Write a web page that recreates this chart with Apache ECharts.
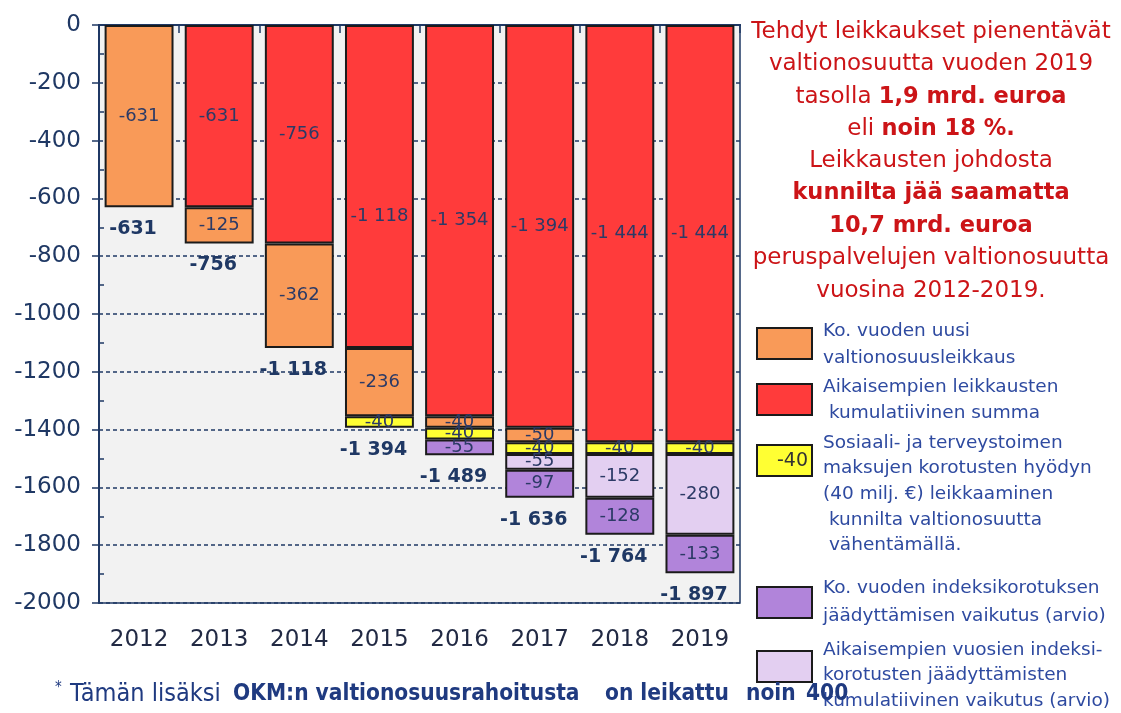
<!DOCTYPE html>
<html>
<head>
<meta charset="utf-8">
<script src="https://cdn.jsdelivr.net/npm/echarts@6/dist/echarts.min.js"></script>
<style>
html,body{margin:0;padding:0;background:#fff;}
#main{width:1121px;height:713px;}
</style>
</head>
<body>
<div id="main"></div>
<script>
// ---- data ----
const categories = ['2012','2013','2014','2015','2016','2017','2018','2019'];
const prevCumulative = [null, -631, -756, -1118, -1354, -1394, -1444, -1444]; // red
const newCut        = [-631, -125, -362, -236, -40, -50, null, null];        // orange
const socialFees    = [null, null, null, -40, -40, -40, -40, -40];           // yellow
const prevIndex     = [null, null, null, null, null, -55, -152, -280];       // light purple
const curIndex      = [null, null, null, null, -55, -97, -128, -133];        // purple
const totals        = [-631, -756, -1118, -1394, -1489, -1636, -1764, -1897];
const yTicks = { min: -2000, max: 0, interval: 200 };

const seriesNames = [
  'Aikaisempien leikkausten kumulatiivinen summa',
  'Ko. vuoden uusi valtionosuusleikkaus',
  'Sosiaali- ja terveystoimen maksujen korotusten hyödyn leikkaaminen',
  'Aikaisempien vuosien indeksikorotusten jäädyttämisten kumulatiivinen vaikutus',
  'Ko. vuoden indeksikorotuksen jäädyttämisen vaikutus'
];
const seriesData = [prevCumulative, newCut, socialFees, prevIndex, curIndex];
const seriesColors = ['#ff3b3b', '#f99a58', '#ffff33', '#e3cff1', '#b184da'];

const NAVY = '#1f3864';
const FONT = "'DejaVu Sans', Verdana, sans-serif";
const NARROW = "'DejaVu Sans Condensed', 'Liberation Sans Narrow', 'Liberation Sans', sans-serif";

function fmt(v) {
  const s = Math.abs(v).toString().replace(/\B(?=(\d{3})+(?!\d))/g, ' ');
  return (v < 0 ? '-' : '') + s;
}

const chart = echarts.init(document.getElementById('main'), null, { renderer: 'canvas' });

const barSeries = seriesData.map((d, i) => ({
  name: seriesNames[i],
  type: 'bar',
  stack: 'total',
  xAxisIndex: 0,
  yAxisIndex: 0,
  barWidth: '86%',
  data: d.map((v, j) => {
    const item = { value: v };
    if (i === 0 && j === 3) item.label = { offset: [0, 30] };
    return item;
  }),
  itemStyle: { color: seriesColors[i], borderColor: '#1b1b1b', borderWidth: 2 },
  label: {
    show: true,
    position: 'inside',
    fontFamily: FONT,
    fontSize: 18,
    color: '#2c3a66',
    formatter: p => (p.value == null ? '' : fmt(p.value))
  },
  z: 3
}));

const option = {
  animation: false,
  backgroundColor: '#ffffff',
  grid: {
    left: 99, right: 381, top: 25, bottom: 110,
    show: true, backgroundColor: '#f2f2f2', borderColor: NAVY, borderWidth: 1.5
  },
  xAxis: [
    {
      type: 'category', data: categories, position: 'bottom',
      axisLine: { show: true, lineStyle: { color: NAVY, width: 2 } },
      axisTick: { show: false },
      axisLabel: { fontFamily: FONT, fontSize: 23, color: '#222a44', margin: 26 }
    },
    {
      type: 'category', data: categories, position: 'top',
      axisLine: { show: true, lineStyle: { color: NAVY, width: 2 } },
      axisTick: { show: true, inside: true, length: 8, lineStyle: { color: NAVY, width: 1.5 } },
      axisLabel: { show: false }
    }
  ],
  yAxis: [
    {
      type: 'value', min: yTicks.min, max: yTicks.max, interval: yTicks.interval,
      axisLine: { show: true, lineStyle: { color: NAVY, width: 2 } },
      axisTick: { show: true, inside: false, length: 7, lineStyle: { color: NAVY, width: 1.5 } },
      splitLine: { show: true, lineStyle: { color: NAVY, type: [4, 3], width: 1.5 } },
      axisLabel: { fontFamily: FONT, fontSize: 23, color: NAVY, margin: 18, formatter: v => String(v) }
    },
    {
      type: 'value', min: yTicks.min, max: yTicks.max, interval: yTicks.interval, position: 'left',
      axisLine: { show: false },
      axisTick: { show: false, inside: true },
      minorTick: { show: true, splitNumber: 2, length: 5, lineStyle: { color: NAVY, width: 1.5 } },
      splitLine: { show: false },
      axisLabel: { show: false }
    }
  ],
  series: barSeries.concat([{
    name: 'Yhteensä',
    type: 'scatter',
    xAxisIndex: 0,
    yAxisIndex: 0,
    data: totals,
    symbol: 'rect',
    symbolSize: 1,
    itemStyle: { color: 'rgba(0,0,0,0)', opacity: 1 },
    label: {
      show: true, position: 'bottom', distance: 12, offset: [-6, 0],
      fontFamily: FONT, fontSize: 19, fontWeight: 'bold', color: NAVY, opacity: 1,
      formatter: p => fmt(p.value)
    },
    z: 5
  }]),
  graphic: buildGraphic()
};

function buildGraphic() {
  const els = [];
  const RED = '#cc1417';
  els.push({
    type: 'text', x: 931, y: 16,
    style: {
      text: [
        'Tehdyt leikkaukset pienentävät',
        'valtionosuutta vuoden 2019',
        'tasolla {b|1,9 mrd. euroa}',
        'eli {b|noin 18 %.}',
        'Leikkausten johdosta',
        '{b|kunnilta jää saamatta}',
        '{b|10,7 mrd. euroa}',
        'peruspalvelujen valtionosuutta',
        'vuosina 2012-2019.'
      ].join('\n'),
      fill: RED, font: "23px " + FONT, lineHeight: 32.3,
      align: 'center', verticalAlign: 'top',
      rich: { b: { fontWeight: 'bold', fontSize: 22.5, fontFamily: FONT, fill: RED, lineHeight: 32.3 } }
    }
  });
  const LEG = '#2e4aa0';
  const legend = [
    { box: 328, color: seriesColors[1], lines: ['Ko. vuoden uusi', 'valtionosuusleikkaus'], first: 331, lh: 27 },
    { box: 384, color: seriesColors[0], lines: ['Aikaisempien leikkausten', ' kumulatiivinen summa'], first: 387, lh: 26 },
    { box: 445, color: seriesColors[2], lines: ['Sosiaali- ja terveystoimen', 'maksujen korotusten hyödyn', '(40 milj. €) leikkaaminen', ' kunnilta valtionosuutta', ' vähentämällä.'], first: 443, lh: 25.6, inner: '-40' },
    { box: 587, color: seriesColors[4], lines: ['Ko. vuoden indeksikorotuksen', 'jäädyttämisen vaikutus (arvio)'], first: 588, lh: 28 },
    { box: 651, color: seriesColors[3], lines: ['Aikaisempien vuosien indeksi-', 'korotusten jäädyttämisten', 'kumulatiivinen vaikutus (arvio)'], first: 650, lh: 25.5 }
  ];
  legend.forEach(l => {
    els.push({
      type: 'rect', shape: { x: 757, y: l.box, width: 55, height: 31 },
      style: { fill: l.color, stroke: '#1b1b1b', lineWidth: 2 }
    });
    if (l.inner) {
      els.push({
        type: 'text', x: 808, y: l.box + 16,
        style: { text: l.inner, fill: '#333', font: '19px ' + FONT, align: 'right', verticalAlign: 'middle' }
      });
    }
    els.push({
      type: 'text', x: 823, y: l.first - l.lh / 2,
      style: { text: l.lines.join('\n'), fill: LEG, font: '18.5px ' + FONT, lineHeight: l.lh, align: 'left', verticalAlign: 'top' }
    });
  });
  const FOOT = '#1f3a80';
  const footer = [
    { t: '*', x: 55, size: 15, bold: false, dy: -6 },
    { t: 'Tämän lisäksi', x: 70, size: 25, bold: false, dy: 0 },
    { t: 'OKM:n valtionosuusrahoitusta', x: 233, size: 22.5, bold: true, dy: 0 },
    { t: 'on leikattu', x: 605, size: 22.5, bold: true, dy: 0 },
    { t: 'noin', x: 746, size: 22.5, bold: true, dy: 0 },
    { t: '400', x: 806, size: 22.5, bold: true, dy: 0 }
  ];
  footer.forEach(f => {
    els.push({
      type: 'text', x: f.x, y: 694 + f.dy, z: 10,
      style: {
        text: f.t, fill: FOOT, align: 'left', verticalAlign: 'middle',
        font: (f.bold ? 'bold ' : '') + f.size + 'px ' + NARROW
      }
    });
  });
  return els;
}

chart.setOption(option);
</script>
</body>
</html>
